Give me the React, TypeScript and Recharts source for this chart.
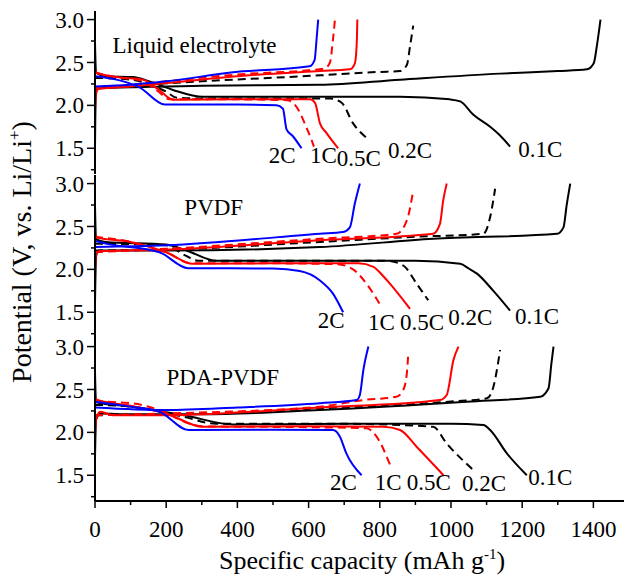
import React from "react";
import { LineChart, Line, XAxis, YAxis, ReferenceDot } from "recharts";

const SERIF = '"Liberation Serif", "Times New Roman", serif';

const xTicks = [0, 100, 200, 300, 400, 500, 600, 700, 800, 900, 1000, 1100, 1200, 1300, 1400];
const yTicks = [1.25, 1.5, 1.75, 2.0, 2.25, 2.5, 2.75, 3.0];
const rates = ["0.1C", "0.2C", "0.5C", "1C", "2C"];

type Pt = [number, number];

// Liquid electrolyte
const liqDis01: Pt[] = [[0, 2.72], [3, 2.38], [30, 2.34], [106, 2.33], [153, 2.28], [219, 2.18], [303, 2.1], [600, 2.1], [857, 2.1], [997, 2.07], [1026, 2.046], [1063, 1.89], [1110, 1.75], [1135, 1.66], [1166, 1.52]];
const liqChg01: Pt[] = [[0, 1.5], [2, 2.1], [8, 2.2], [100, 2.21], [300, 2.23], [632, 2.24], [857, 2.3], [1138, 2.37], [1300, 2.4], [1382, 2.42], [1401, 2.49], [1410, 2.7], [1420, 3.0]];
const liqDis02: Pt[] = [[0, 2.32], [100, 2.3], [150, 2.25], [200, 2.16], [230, 2.09], [300, 2.08], [500, 2.08], [660, 2.08], [693, 2.03], [725, 1.79], [763, 1.62]];
const liqChg02: Pt[] = [[0, 2.2], [100, 2.23], [300, 2.28], [632, 2.35], [800, 2.39], [857, 2.4], [876, 2.47], [885, 2.69], [894, 2.93]];
const liqDis05: Pt[] = [[0, 2.42], [5, 2.38], [60, 2.33], [134, 2.3], [180, 2.18], [219, 2.065], [400, 2.07], [604, 2.07], [618, 2.03], [632, 1.79], [650, 1.68], [683, 1.5]];
const liqChg05: Pt[] = [[0, 1.92], [3, 2.15], [10, 2.19], [100, 2.22], [200, 2.26], [400, 2.34], [632, 2.4], [716, 2.42], [730, 2.49], [735, 2.7], [737, 3.0]];
const liqDis1: Pt[] = [[0, 2.38], [60, 2.33], [130, 2.29], [175, 2.17], [210, 2.07], [400, 2.07], [540, 2.06], [556, 2.03], [575, 1.92], [589, 1.79], [608, 1.6], [615, 1.52]];
const liqChg1: Pt[] = [[0, 2.2], [100, 2.24], [200, 2.28], [400, 2.36], [600, 2.41], [645, 2.43], [660, 2.5], [668, 2.75], [674, 3.0]];
const liqDis2: Pt[] = [[0, 2.34], [60, 2.3], [125, 2.21], [196, 2.01], [400, 2.01], [510, 2.0], [528, 1.96], [538, 1.72], [556, 1.64], [580, 1.5]];
const liqChg2: Pt[] = [[0, 2.22], [100, 2.24], [200, 2.28], [388, 2.385], [603, 2.455], [617, 2.53], [622, 2.75], [627, 3.0]];

// PVDF
const pvDis01: Pt[] = [[0, 2.75], [3, 2.35], [30, 2.32], [200, 2.29], [257, 2.22], [341, 2.1], [600, 2.1], [900, 2.1], [1026, 2.065], [1050, 2.01], [1073, 1.95], [1119, 1.75], [1166, 1.52]];
const pvChg01: Pt[] = [[0, 1.6], [3, 2.15], [10, 2.22], [200, 2.22], [632, 2.26], [950, 2.357], [1298, 2.415], [1316, 2.49], [1325, 2.75], [1335, 3.0]];
const pvDis02: Pt[] = [[0, 2.3], [200, 2.28], [250, 2.17], [290, 2.1], [500, 2.1], [820, 2.1], [866, 2.045], [904, 1.83], [936, 1.64]];
const pvChg02: Pt[] = [[0, 2.22], [200, 2.23], [632, 2.32], [900, 2.38], [1091, 2.415], [1110, 2.61], [1124, 2.94]];
const pvDis05: Pt[] = [[0, 2.43], [5, 2.37], [100, 2.32], [200, 2.2], [275, 2.065], [500, 2.07], [740, 2.07], [782, 2.03], [810, 1.92], [829, 1.83], [885, 1.54]];
const pvChg05: Pt[] = [[0, 1.98], [3, 2.18], [10, 2.21], [200, 2.23], [632, 2.34], [950, 2.415], [969, 2.53], [978, 2.8], [988, 3.0]];
const pvDis1: Pt[] = [[0, 2.38], [100, 2.32], [200, 2.2], [270, 2.07], [500, 2.07], [680, 2.06], [725, 2.0], [763, 1.83], [805, 1.56]];
const pvChg1: Pt[] = [[0, 2.2], [200, 2.24], [632, 2.357], [847, 2.415], [876, 2.57], [894, 2.92]];
const pvDis2: Pt[] = [[0, 2.33], [30, 2.3], [181, 2.2], [261, 2.014], [500, 2.01], [575, 1.98], [632, 1.87], [669, 1.715], [697, 1.5]];
const pvChg2: Pt[] = [[0, 2.26], [200, 2.28], [632, 2.415], [697, 2.435], [716, 2.49], [730, 2.77], [744, 3.0]];

// PDA-PVDF
const pdaDis01: Pt[] = [[0, 2.7], [3, 2.35], [100, 2.3], [250, 2.2], [388, 2.093], [700, 2.1], [1000, 2.1], [1091, 2.085], [1110, 2.027], [1157, 1.755], [1213, 1.5]];
const pdaChg01: Pt[] = [[0, 1.7], [3, 2.15], [15, 2.22], [100, 2.21], [300, 2.21], [632, 2.26], [1045, 2.357], [1251, 2.416], [1274, 2.514], [1282, 2.8], [1288, 3.0]];
const pdaDis02: Pt[] = [[0, 2.32], [100, 2.3], [250, 2.18], [340, 2.1], [700, 2.1], [950, 2.065], [988, 1.87], [1063, 1.56]];
const pdaChg02: Pt[] = [[0, 2.2], [300, 2.22], [632, 2.28], [1000, 2.36], [1101, 2.397], [1119, 2.53], [1138, 2.96]];
const pdaDis05: Pt[] = [[0, 2.41], [5, 2.38], [100, 2.31], [200, 2.22], [303, 2.065], [600, 2.07], [810, 2.065], [857, 2.027], [904, 1.83], [979, 1.5]];
const pdaChg05: Pt[] = [[0, 1.95], [3, 2.15], [15, 2.24], [50, 2.2], [200, 2.2], [632, 2.29], [969, 2.377], [988, 2.436], [1007, 2.845], [1021, 3.0]];
const pdaDis1: Pt[] = [[0, 2.36], [100, 2.34], [181, 2.26], [266, 2.1], [300, 2.07], [600, 2.06], [763, 2.047], [791, 1.95], [829, 1.62]];
const pdaChg1: Pt[] = [[0, 2.2], [200, 2.22], [632, 2.3], [754, 2.377], [847, 2.416], [866, 2.494], [876, 2.69], [880, 2.92]];
const pdaDis2: Pt[] = [[0, 2.357], [100, 2.3], [181, 2.24], [263, 2.027], [500, 2.03], [669, 2.027], [688, 1.95], [706, 1.755], [749, 1.5]];
const pdaChg2: Pt[] = [[0, 2.29], [200, 2.26], [400, 2.29], [632, 2.34], [735, 2.377], [744, 2.436], [754, 2.73], [768, 3.0]];

// where the rate names sit, in data units (same order as rates)
const liqLabelPos: Pt[] = [[1189, 1.49], [823, 1.48], [679, 1.39], [604, 1.425], [488, 1.425]];
const pvLabelPos: Pt[] = [[1180, 1.455], [992, 1.44], [857, 1.385], [767, 1.385], [626, 1.405]];
const pdaLabelPos: Pt[] = [[1217, 1.48], [1031, 1.405], [876, 1.425], [786, 1.425], [660, 1.425]];

const rateStyle: Record<string, { color: string; dash?: string }> = {
  "0.1C": { color: "#000000" },
  "0.2C": { color: "#000000", dash: "8 5" },
  "0.5C": { color: "#ff0000" },
  "1C": { color: "#ff0000", dash: "8 5" },
  "2C": { color: "#0000ff" },
};

const XMAX = 1486;
const PLOT_H = 163;

const toRows = (pts: Pt[]) => pts.map(([x, y]) => ({ x, y }));

function TopTick(props: any) {
  const { x, y, payload } = props;
  const len = payload.value % 200 === 0 ? 7 : 4;
  return <line x1={x} x2={x} y1={y} y2={y + len} stroke="#000" strokeWidth={1.5} />;
}

function BottomTick(props: any) {
  const { x, y, payload } = props;
  const major = payload.value % 200 === 0;
  return (
    <g>
      <line x1={x} x2={x} y1={y} y2={y + (major ? 7 : 4)} stroke="#000" strokeWidth={1.5} />
      {major && (
        <text x={x} y={y + 36} textAnchor="middle" fontFamily={SERIF} fontSize={23} fill="#000">
          {payload.value}
        </text>
      )}
    </g>
  );
}

function LeftTick(props: any) {
  const { x, y, payload } = props;
  const major = Math.abs(payload.value * 2 - Math.round(payload.value * 2)) < 1e-6;
  return (
    <g>
      <line x1={x - (major ? 8 : 4)} x2={x} y1={y} y2={y} stroke="#000" strokeWidth={1.5} />
      {major && (
        <text x={x - 11} y={y} dy="0.35em" textAnchor="end" fontFamily={SERIF} fontSize={23} fill="#000">
          {payload.value.toFixed(1)}
        </text>
      )}
    </g>
  );
}

const textAt = (text: string, size: number) => (p: any) => (
  <text
    x={p.viewBox.x}
    y={p.viewBox.y}
    dy="0.35em"
    fontFamily={SERIF}
    fontSize={size}
    fill="#000"
  >
    {text}
  </text>
);

type PanelProps = {
  top: number;
  title: string;
  titlePos: Pt;
  curves: Pt[][];
  labelPos: Pt[];
  topTicks: boolean;
  bottomAxis: boolean;
};

function Panel({ top, title, titlePos, curves, labelPos, topTicks, bottomAxis }: PanelProps) {
  const mt = 4;
  const bottomH = bottomAxis ? 45 : 0;
  return (
    <div style={{ position: "absolute", left: 0, top: top - mt }}>
      <LineChart width={624} height={mt + PLOT_H + bottomH} margin={{ top: mt, right: 0, bottom: 0, left: 0 }}>
        <XAxis
          xAxisId="x"
          type="number"
          dataKey="x"
          orientation="top"
          domain={[0, XMAX]}
          ticks={xTicks}
          interval={0}
          height={0}
          tickSize={0}
          tickMargin={0}
          tick={topTicks ? (p: any) => <TopTick {...p} /> : false}
          axisLine={{ stroke: "#000", strokeWidth: 2 }}
          allowDataOverflow
        />
        {bottomAxis && (
          <XAxis
            xAxisId="xb"
            type="number"
            dataKey="x"
            orientation="bottom"
            domain={[0, XMAX]}
            ticks={xTicks}
            interval={0}
            height={bottomH}
            tickSize={0}
            tickMargin={0}
            tick={(p: any) => <BottomTick {...p} />}
            axisLine={{ stroke: "#000", strokeWidth: 2 }}
            allowDataOverflow
          />
        )}
        <YAxis
          yAxisId="y"
          type="number"
          domain={[1.2, 3.1]}
          ticks={yTicks}
          interval={0}
          width={95}
          tickSize={0}
          tickMargin={0}
          tick={(p: any) => <LeftTick {...p} />}
          axisLine={{ stroke: "#000", strokeWidth: 2 }}
          allowDataOverflow
        />
        {curves.map((pts, i) => {
          const st = rateStyle[rates[Math.floor(i / 2)]];
          return (
            <Line
              key={i}
              xAxisId="x"
              yAxisId="y"
              data={toRows(pts)}
              dataKey="y"
              type="monotone"
              dot={false}
              stroke={st.color}
              strokeWidth={2}
              strokeDasharray={st.dash}
              isAnimationActive={false}
            />
          );
        })}
        <ReferenceDot xAxisId="x" yAxisId="y" x={titlePos[0]} y={titlePos[1]} r={0} label={textAt(title, 23)} />
        {labelPos.map(([x, y], i) => (
          <ReferenceDot key={rates[i]} xAxisId="x" yAxisId="y" x={x} y={y} r={0} label={textAt(rates[i], 23)} />
        ))}
      </LineChart>
    </div>
  );
}

export default function App() {
  return (
    <div style={{ position: "absolute", left: 0, top: 0, width: 624, height: 577, background: "#fff", overflow: "hidden" }}>
      <Panel
        top={11}
        title="Liquid electrolyte"
        titlePos={[49, 2.71]}
        curves={[liqDis01, liqChg01, liqDis02, liqChg02, liqDis05, liqChg05, liqDis1, liqChg1, liqDis2, liqChg2]}
        labelPos={liqLabelPos}
        topTicks={false}
        bottomAxis={false}
      />
      <Panel
        top={174.5}
        title="PVDF"
        titlePos={[251, 2.727]}
        curves={[pvDis01, pvChg01, pvDis02, pvChg02, pvDis05, pvChg05, pvDis1, pvChg1, pvDis2, pvChg2]}
        labelPos={pvLabelPos}
        topTicks={true}
        bottomAxis={false}
      />
      <Panel
        top={338}
        title="PDA-PVDF"
        titlePos={[201, 2.65]}
        curves={[pdaDis01, pdaChg01, pdaDis02, pdaChg02, pdaDis05, pdaChg05, pdaDis1, pdaChg1, pdaDis2, pdaChg2]}
        labelPos={pdaLabelPos}
        topTicks={true}
        bottomAxis={true}
      />
      <svg width={624} height={577} style={{ position: "absolute", left: 0, top: 0, pointerEvents: "none" }}>
        <text transform="translate(31,252) rotate(-90)" textAnchor="middle" fontFamily={SERIF} fontSize={28} fill="#000">
          Potential (V, vs. Li/Li<tspan dy={-11} fontSize={17}>+</tspan>
          <tspan dy={11}>)</tspan>
        </text>
        <text x={362} y={569} textAnchor="middle" fontFamily={SERIF} fontSize={26} fill="#000">
          Specific capacity (mAh g<tspan dy={-10} fontSize={15}>-1</tspan>
          <tspan dy={10}>)</tspan>
        </text>
      </svg>
    </div>
  );
}
